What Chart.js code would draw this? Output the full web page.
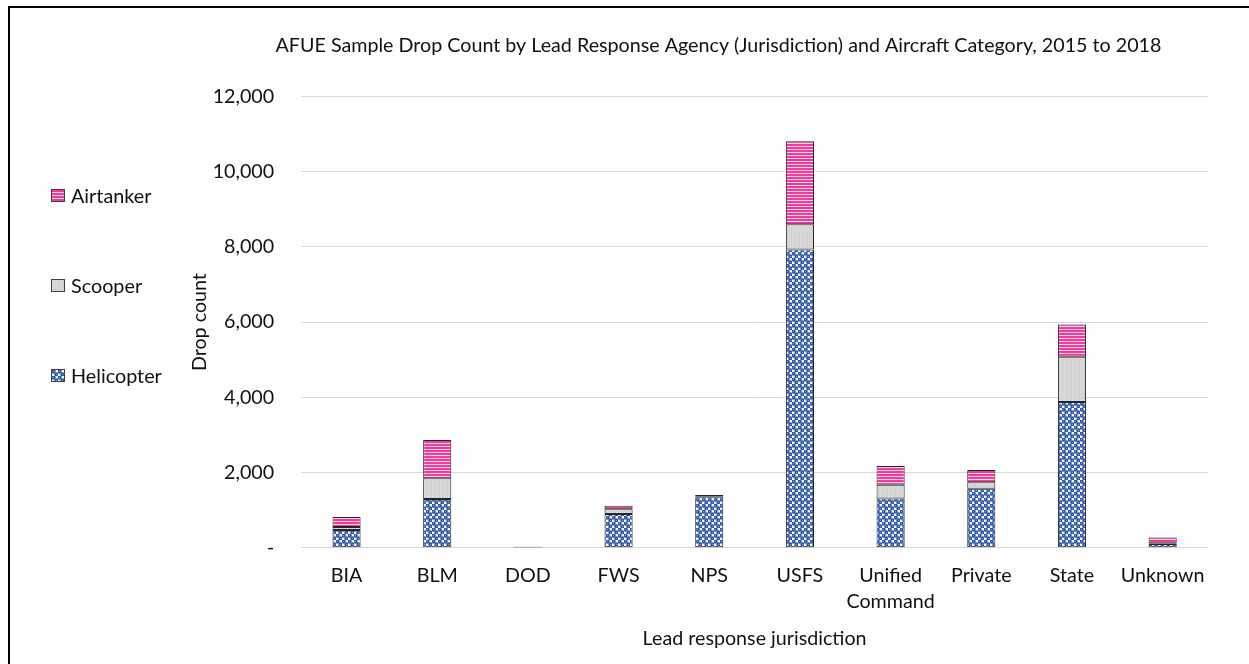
<!DOCTYPE html>
<html>
<head>
<meta charset="utf-8">
<title>AFUE Sample Drop Count</title>
<script src="https://cdn.jsdelivr.net/npm/chart.js@4"></script>
<style>
  html, body { margin: 0; padding: 0; background: #fff; overflow: hidden; }
  #wrap { position: relative; width: 1249px; height: 664px; }
  #frame { position: absolute; left: 8px; top: 6px; width: 1270px; height: 700px; border: 2px solid #000; pointer-events: none; }
  .leg { position: absolute; left: 51px; height: 24px; font: 19.8px Lato, sans-serif; color: #111; display: flex; align-items: center; }
  .sw { width: 12px; height: 11px; border: 1px solid #404040; margin-right: 6px; }
</style>
</head>
<body>
<div id="wrap">
  <canvas id="chart" width="1249" height="664"></canvas>
  <div id="frame"></div>
  <div id="legend"></div>
</div>
<script>
// Data
const categories = ["BIA", "BLM", "DOD", "FWS", "NPS", "USFS", ["Unified", "Command"], "Private", "State", "Unknown"];
const helicopter = [470, 1293, 10, 895, 1340, 7930, 1310, 1566, 3876, 100];
const scooper = [80, 557, 8, 130, 30, 670, 362, 178, 1203, 20];
const airtanker = [265, 1017, 7, 90, 30, 2210, 505, 326, 859, 155];
const yMax = 12000;
const yStep = 2000;

// Small tiles used as fill patterns (Excel-like hatch fills)
function makeTile(w, h, draw) {
  const c = document.createElement("canvas");
  c.width = w;
  c.height = h;
  draw(c.getContext("2d"));
  return c;
}

const heliTile = makeTile(6, 6, (g) => {
  g.fillStyle = "#fff";
  g.fillRect(0, 0, 6, 6);
  g.fillStyle = "#2f58a8";
  [[1.5, 1.5], [4.5, 4.5]].forEach(([x, y]) => {
    g.beginPath();
    g.arc(x, y, 2.2, 0, Math.PI * 2);
    g.fill();
  });
  g.fillStyle = "#7f9bd4";
  g.fillRect(1, 1, 1, 1);
  g.fillRect(4, 4, 1, 1);
});

const scoopTile = makeTile(4, 4, (g) => {
  g.fillStyle = "#d4d4d4";
  g.fillRect(0, 0, 4, 4);
  g.fillStyle = "#e4e4e4";
  g.fillRect(0, 0, 1, 1);
  g.fillRect(2, 2, 1, 1);
  g.fillStyle = "#c8c8c8";
  g.fillRect(3, 1, 1, 1);
});

const airTile = makeTile(4, 3, (g) => {
  g.fillStyle = "#f7399a";
  g.fillRect(0, 0, 4, 2);
  g.fillStyle = "#ffd3e8";
  g.fillRect(0, 2, 4, 1);
});

const ctx = document.getElementById("chart").getContext("2d");
const heliFill = ctx.createPattern(heliTile, "repeat");
const scoopFill = ctx.createPattern(scoopTile, "repeat");
const airFill = ctx.createPattern(airTile, "repeat");

// Legend (left side, reversed order like the original)
const legendItems = [
  { label: "Airtanker", tile: airTile, y: 195 },
  { label: "Scooper", tile: scoopTile, y: 285 },
  { label: "Helicopter", tile: heliTile, y: 375 },
];
const legendEl = document.getElementById("legend");
legendItems.forEach((item) => {
  const row = document.createElement("div");
  row.className = "leg";
  row.style.top = (item.y - 12) + "px";
  const sw = document.createElement("span");
  sw.className = "sw";
  sw.style.backgroundImage = `url(${item.tile.toDataURL()})`;
  row.appendChild(sw);
  row.appendChild(document.createTextNode(item.label));
  legendEl.appendChild(row);
});

Chart.defaults.font.family = "Lato, sans-serif";
Chart.defaults.font.size = 19.7;
Chart.defaults.color = "#111";

const barStyle = {
  borderColor: "#262626",
  borderWidth: 1,
  borderSkipped: false,
  barPercentage: 0.31,
  categoryPercentage: 1,
};

new Chart(ctx, {
  type: "bar",
  data: {
    labels: categories,
    datasets: [
      { label: "Helicopter", data: helicopter, backgroundColor: heliFill, ...barStyle },
      { label: "Scooper", data: scooper, backgroundColor: scoopFill, ...barStyle },
      { label: "Airtanker", data: airtanker, backgroundColor: airFill, ...barStyle },
    ],
  },
  options: {
    responsive: false,
    animation: false,
    events: [],
    layout: { padding: { left: 188, right: 0, top: 0, bottom: 9.6 } },
    plugins: {
      legend: { display: false },
      tooltip: { enabled: false },
      title: {
        display: true,
        text: "AFUE Sample Drop Count by Lead Response Agency (Jurisdiction) and Aircraft Category, 2015 to 2018",
        color: "#111",
        font: { size: 19.7, weight: "normal" },
        padding: { top: 34.2, bottom: 38.6 },
      },
    },
    scales: {
      x: {
        stacked: true,
        grid: { display: false, drawTicks: false },
        border: { display: false },
        ticks: { padding: 15, font: { size: 19.7, lineHeight: 1.32 }, maxRotation: 0, autoSkip: false },
        title: {
          display: true,
          text: "Lead response jurisdiction",
          font: { size: 19.7 },
          padding: { top: -3, bottom: 4 },
        },
      },
      y: {
        stacked: true,
        min: 0,
        max: yMax,
        grid: { color: "#d9d9d9", lineWidth: 1, drawTicks: false },
        border: { display: false },
        ticks: {
          stepSize: yStep,
          padding: 27,
          callback: (v) => (v === 0 ? "-" : v.toLocaleString("en-US")),
        },
        title: {
          display: true,
          text: "Drop count",
          font: { size: 19.7 },
          padding: { top: 0, bottom: -26 },
        },
      },
      yRight: {
        type: "linear",
        position: "right",
        display: true,
        grid: { display: false },
        border: { display: false },
        ticks: { display: false },
        afterFit: (scale) => { scale.width = 41; },
      },
    },
  },
});
</script>
</body>
</html>
